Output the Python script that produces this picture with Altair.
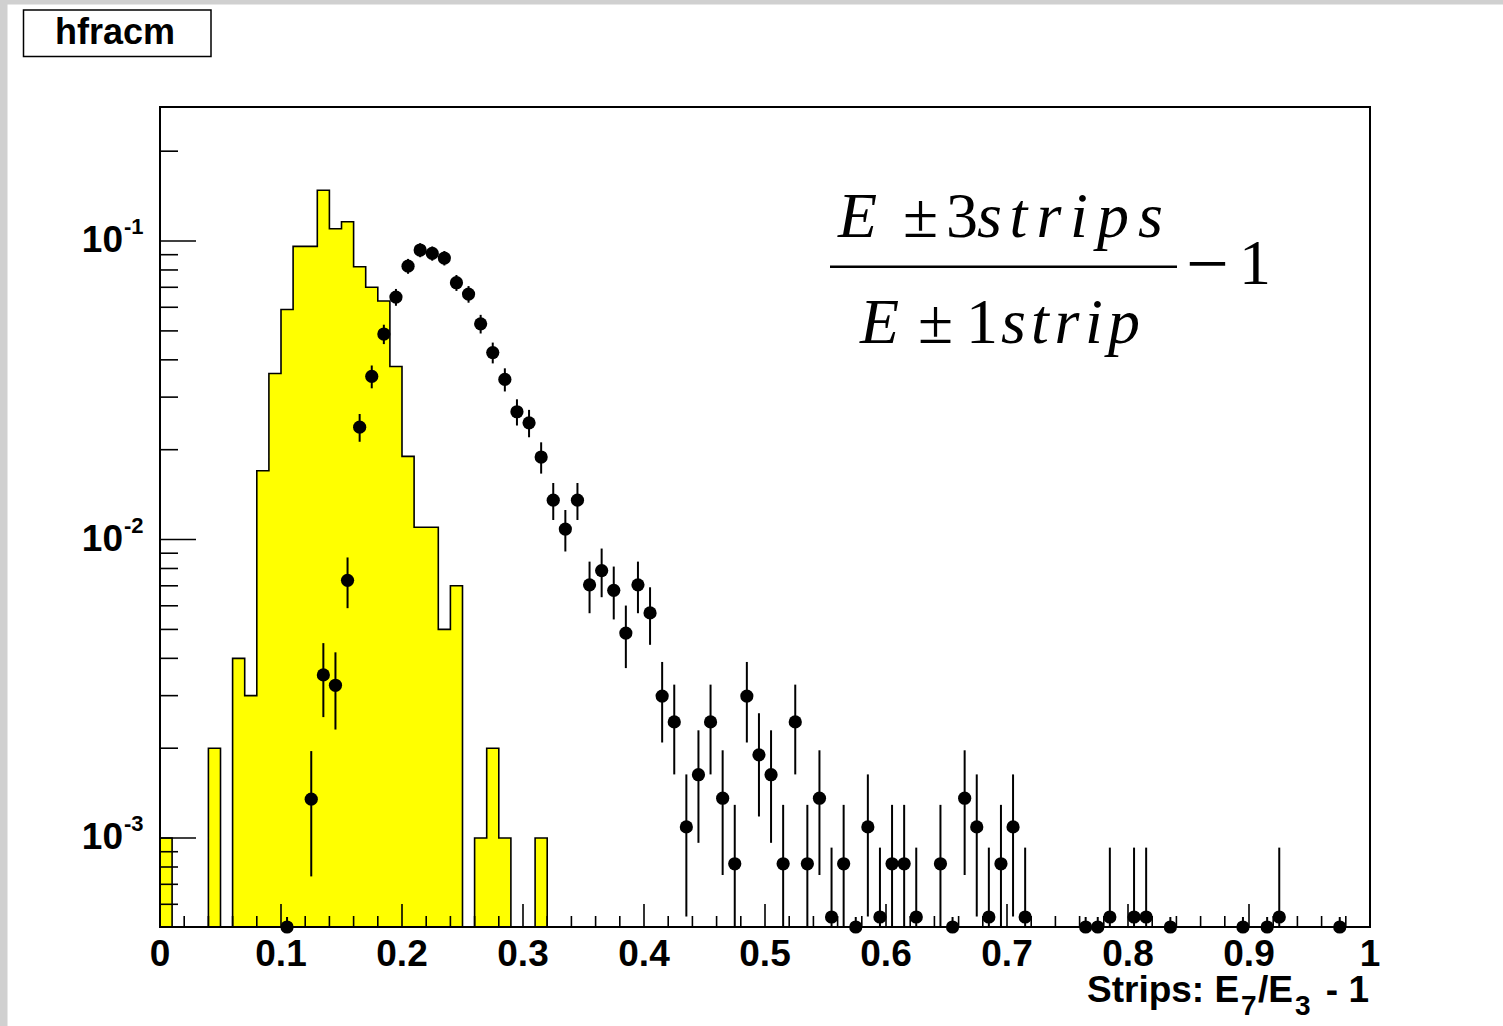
import altair as alt
import pandas as pd

# ---------------- data ----------------
BIN_W = 0.01
# yellow histogram: content of bins 0..31 (bin i = [i*0.01, (i+1)*0.01]); later bins are empty
hist_vals = [0.001, 0, 0, 0, 0.002, 0, 0.004, 0.003, 0.017, 0.036,
             0.059, 0.096, 0.096, 0.148, 0.110, 0.116, 0.082, 0.070, 0.063, 0.038,
             0.019, 0.011, 0.011, 0.005, 0.007, 0, 0.001, 0.002, 0.001, 0,
             0, 0.001]

# black points (bin centres), values and errors
pt_x = [0.105, 0.125, 0.135, 0.145, 0.155, 0.165, 0.175, 0.185, 0.195, 0.205,
        0.215, 0.225, 0.235, 0.245, 0.255, 0.265, 0.275, 0.285, 0.295, 0.305,
        0.315, 0.325, 0.335, 0.345, 0.355, 0.365, 0.375, 0.385, 0.395, 0.405,
        0.415, 0.425, 0.435, 0.445, 0.455, 0.465, 0.475, 0.485, 0.495, 0.505,
        0.515, 0.525, 0.535, 0.545, 0.555, 0.565, 0.575, 0.585, 0.595, 0.605,
        0.615, 0.625, 0.645, 0.655, 0.665, 0.675, 0.685, 0.695, 0.705, 0.715,
        0.765, 0.775, 0.785, 0.805, 0.815, 0.835, 0.895, 0.915, 0.925, 0.975]
pt_y = [2.72e-4, 1.35e-3, 3.52e-3, 3.25e-3, 7.3e-3, 0.0238, 0.0352, 0.0488, 0.0649, 0.0824,
        0.0933, 0.0909, 0.0877, 0.0725, 0.0664, 0.0528, 0.0423, 0.0344, 0.0268, 0.0246,
        0.0189, 0.01355, 0.01084, 0.01355, 7.05e-3, 7.87e-3, 6.76e-3, 4.86e-3, 7.05e-3, 5.68e-3,
        2.99e-3, 2.45e-3, 1.09e-3, 1.63e-3, 2.45e-3, 1.36e-3, 8.2e-4, 2.99e-3, 1.90e-3, 1.63e-3,
        8.2e-4, 2.45e-3, 8.2e-4, 1.36e-3, 5.44e-4, 8.2e-4, 2.72e-4, 1.09e-3, 5.44e-4, 8.2e-4,
        8.2e-4, 5.44e-4, 8.2e-4, 2.72e-4, 1.36e-3, 1.09e-3, 5.44e-4, 8.2e-4, 1.09e-3, 5.44e-4,
        2.72e-4, 2.72e-4, 5.44e-4, 5.44e-4, 5.44e-4, 2.72e-4, 2.72e-4, 2.72e-4, 5.44e-4, 2.72e-4]
pt_err = [2.72e-4, 6.06e-4, 9.78e-4, 9.40e-4, 1.41e-3, 2.54e-3, 3.09e-3, 3.64e-3, 4.20e-3, 4.73e-3,
          5.04e-3, 4.97e-3, 4.88e-3, 4.44e-3, 4.25e-3, 3.79e-3, 3.39e-3, 3.06e-3, 2.70e-3, 2.59e-3,
          2.27e-3, 1.92e-3, 1.72e-3, 1.92e-3, 1.385e-3, 1.46e-3, 1.36e-3, 1.15e-3, 1.385e-3, 1.24e-3,
          9.0e-4, 8.16e-4, 5.44e-4, 6.66e-4, 8.16e-4, 6.08e-4, 4.72e-4, 9.0e-4, 7.19e-4, 6.66e-4,
          4.72e-4, 8.16e-4, 4.72e-4, 6.08e-4, 3.85e-4, 4.72e-4, 2.72e-4, 5.44e-4, 3.85e-4, 4.72e-4,
          4.72e-4, 3.85e-4, 4.72e-4, 2.72e-4, 6.08e-4, 5.44e-4, 3.85e-4, 4.72e-4, 5.44e-4, 3.85e-4,
          2.72e-4, 2.72e-4, 3.85e-4, 3.85e-4, 3.85e-4, 2.72e-4, 2.72e-4, 2.72e-4, 3.85e-4, 2.72e-4]

x_tick_major = [0.0, 0.1, 0.2, 0.3, 0.4, 0.5, 0.6, 0.7, 0.8, 0.9, 1.0]
x_tick_labels = ["0", "0.1", "0.2", "0.3", "0.4", "0.5", "0.6", "0.7", "0.8", "0.9", "1"]
x_tick_minor = [round(0.02 * i, 2) for i in range(1, 50) if i % 5]
y_tick_major = [0.1, 0.01, 0.001]
y_tick_exp = ["-1", "-2", "-3"]
y_tick_minor = [6e-4, 7e-4, 8e-4, 9e-4,
                2e-3, 3e-3, 4e-3, 5e-3, 6e-3, 7e-3, 8e-3, 9e-3,
                2e-2, 3e-2, 4e-2, 5e-2, 6e-2, 7e-2, 8e-2, 9e-2, 0.2]

# ---------------- layout ----------------
YMIN, YMAX = 5.036e-4, 0.2812
W, H = 1210, 820
SANS = "Liberation Sans"
SERIF = "Liberation Serif"

xs = alt.Scale(domain=[0, 1], nice=False, zero=False)
ys = alt.Scale(type="log", domain=[YMIN, YMAX], nice=False, clamp=True)


def X(f):
    return alt.X(f, type="quantitative", scale=xs, axis=None)


def Y(f):
    return alt.Y(f, type="quantitative", scale=ys, axis=None)


one = pd.DataFrame({"k": [0]})

# step outline of the yellow histogram
n = len(hist_vals)
outline = pd.DataFrame(
    {"x": [round(i * BIN_W, 4) for i in range(n)] + [round(n * BIN_W, 4), 1.0],
     "y": [max(v, YMIN) for v in hist_vals] + [YMIN, YMIN]})

points = pd.DataFrame({
    "x": pt_x, "y": pt_y,
    "lo": [max(y - e, YMIN) for y, e in zip(pt_y, pt_err)],
    "hi": [y + e for y, e in zip(pt_y, pt_err)],
})

xmaj = pd.DataFrame({"x": x_tick_major, "lab": x_tick_labels})
xmin = pd.DataFrame({"x": x_tick_minor})
ymaj = pd.DataFrame({"y": y_tick_major, "e": y_tick_exp, "base": ["10"] * 3})
ymin = pd.DataFrame({"y": y_tick_minor})


def txt(s, x, y, size, font=SANS, weight="bold", style="normal", align="left"):
    return alt.Chart(one).mark_text(
        text=s, font=font, fontSize=size, fontWeight=weight, fontStyle=style,
        align=align, baseline="alphabetic", color="black"
    ).encode(x=alt.value(x), y=alt.value(y))


def box(x1, x2, y1, y2, fill, stroke=None, sw=0):
    kw = {"fill": fill}
    if stroke:
        kw.update(stroke=stroke, strokeWidth=sw)
    return alt.Chart(one).mark_rect(**kw).encode(
        x=alt.value(x1), x2=alt.value(x2), y=alt.value(y1), y2=alt.value(y2))


layers = []
# canvas bevel (grey strips on the left and top)
layers.append(box(-160, -152.5, -107, 919, "#d0d0d0"))
layers.append(box(-160, 1343, -107, -102.5, "#d0d0d0"))

# yellow histogram
layers.append(alt.Chart(outline).mark_area(interpolate="step-after", color="#ffff00", opacity=1)
              .encode(x=X("x"), y=Y("y"), y2=alt.value(H)))
layers.append(alt.Chart(outline).mark_line(interpolate="step-after", color="black", strokeWidth=1.6)
              .encode(x=X("x"), y=Y("y")))

# data points with error bars
layers.append(alt.Chart(points).mark_rule(color="black", strokeWidth=2)
              .encode(x=X("x"), y=Y("lo"), y2=alt.Y2("hi")))
layers.append(alt.Chart(points).mark_circle(size=175, color="black", opacity=1)
              .encode(x=X("x"), y=Y("y")))

# inward ticks
layers.append(alt.Chart(xmaj).mark_rule(color="black", strokeWidth=1.6)
              .encode(x=X("x"), y=alt.value(H), y2=alt.value(H - 23)))
layers.append(alt.Chart(xmin).mark_rule(color="black", strokeWidth=1.6)
              .encode(x=X("x"), y=alt.value(H), y2=alt.value(H - 11)))
layers.append(alt.Chart(ymaj).mark_rule(color="black", strokeWidth=1.6)
              .encode(y=Y("y"), x=alt.value(0), x2=alt.value(36)))
layers.append(alt.Chart(ymin).mark_rule(color="black", strokeWidth=1.6)
              .encode(y=Y("y"), x=alt.value(0), x2=alt.value(18)))

# frame
layers.append(box(0, W, 0, H, "transparent", "black", 2))

# tick labels
layers.append(alt.Chart(xmaj).mark_text(font=SANS, fontWeight="bold", fontSize=37,
                                        align="center", baseline="alphabetic", color="black")
              .encode(x=X("x"), y=alt.value(859), text="lab:N"))
layers.append(alt.Chart(ymaj).mark_text(font=SANS, fontWeight="bold", fontSize=37,
                                        align="right", baseline="alphabetic", dy=11, color="black")
              .encode(y=Y("y"), x=alt.value(-37), text="base:N"))
layers.append(alt.Chart(ymaj).mark_text(font=SANS, fontWeight="bold", fontSize=22,
                                        align="left", baseline="alphabetic", dy=-7, color="black")
              .encode(y=Y("y"), x=alt.value(-36), text="e:N"))

# axis title  "Strips: E_7/E_3 - 1"
layers.append(txt("Strips: E", 927, 895, 37))
layers.append(txt("7", 1081, 908, 28))
layers.append(txt("/E", 1098, 895, 37))
layers.append(txt("3", 1135, 908, 28))
layers.append(txt("- 1", 1209, 895, 37, align="right"))

# histogram title box
layers.append(box(-136.5, 51, -97, -50.5, "white", "black", 1.5))
layers.append(txt("hfracm", -45, -63, 36, align="center"))

# formula  (E ± 3strips)/(E ± 1strip) - 1
FS = 64
NB, DB = 130, 236
for s, x, st in [("E", 678, "italic"), ("±", 743, "normal"), ("3", 786, "normal"),
                 ("s", 817, "italic"), ("t", 849.5, "italic"), ("r", 876.5, "italic"),
                 ("i", 910, "italic"), ("p", 937, "italic"), ("s", 978, "italic")]:
    layers.append(txt(s, x, NB, FS, font=SERIF, weight="normal", style=st))
for s, x, st in [("E", 700, "italic"), ("±", 758, "normal"), ("1", 806, "normal"),
                 ("s", 841, "italic"), ("t", 871, "italic"), ("r", 894.5, "italic"),
                 ("i", 925, "italic"), ("p", 948, "italic")]:
    layers.append(txt(s, x, DB, FS, font=SERIF, weight="normal", style=st))
layers.append(alt.Chart(one).mark_rule(color="black", strokeWidth=2.5)
              .encode(x=alt.value(670), x2=alt.value(1017), y=alt.value(159.7)))
layers.append(txt("\u2212", 1026, 182, 76, font=SERIF, weight="normal"))
layers.append(txt("1", 1079, 177, FS, font=SERIF, weight="normal"))

chart = alt.layer(*layers).properties(
    width=W, height=H,
    autosize=alt.AutoSizeParams(type="none"),
    padding={"left": 160, "top": 107, "right": 133, "bottom": 99},
    background="white",
).configure_view(stroke=None)

chart.save("out.html", embed_options={"renderer": "svg", "actions": False})
